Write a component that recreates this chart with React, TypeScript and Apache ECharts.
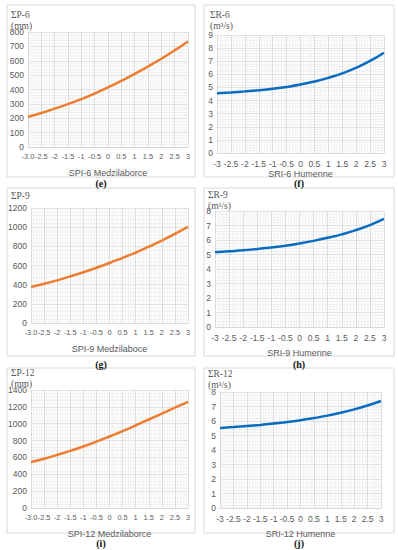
import React, { useEffect, useRef } from "react";
import * as echarts from "echarts";

const xSteps = [-3, -2.5, -2, -1.5, -1, -0.5, 0, 0.5, 1, 1.5, 2, 2.5, 3];

const p6 = [210, 237, 267, 298, 333, 372, 415, 460, 508, 560, 614, 672, 734];
const r6 = [4.55, 4.62, 4.7, 4.79, 4.9, 5.04, 5.22, 5.45, 5.73, 6.07, 6.5, 7.02, 7.65];
const p9 = [375, 410, 445, 487, 530, 576, 626, 680, 735, 796, 860, 930, 1002];
const r9 = [5.15, 5.22, 5.29, 5.38, 5.48, 5.6, 5.76, 5.94, 6.15, 6.39, 6.68, 7.03, 7.45];
const p12 = [545, 585, 630, 678, 730, 787, 848, 912, 980, 1050, 1120, 1190, 1258];
const r12 = [5.52, 5.58, 5.65, 5.73, 5.82, 5.93, 6.05, 6.2, 6.37, 6.57, 6.8, 7.07, 7.38];

const yMaxes = [800, 9, 1200, 8, 1400, 8];
const yIntervals = [100, 1, 200, 1, 200, 1];
const xNames = [
  "SPI-6 Medzilaborce",
  "SRI-6 Humenne",
  "SPI-9 Medzilaboce",
  "SRI-9 Humenne",
  "SPI-12 Medzilaborce",
  "SRI-12 Humenne",
];
const yTitles = ["ΣP-6", "ΣR-6", "ΣP-9", "ΣR-9", "ΣP-12", "ΣR-12"];
const yUnits = ["(mm)", "(m³/s)", "", "(m³/s)", "(mm)", "(m³/s)"];
const panelLetters = ["(e)", "(f)", "(g)", "(h)", "(i)", "(j)"];
const firstLabels = ["-3.0", "-3", "-3.0", "-3", "-3.0", "-3"];

const ORANGE = "#ED7D31";
const BLUE = "#0A6CC0";

export default function App() {
  const ref = useRef<HTMLDivElement>(null);
  useEffect(() => {
    if (!ref.current) return;
    const chart = echarts.init(ref.current, null, { renderer: "svg" });
    const grids = [
      { left: 28, top: 32, width: 160, height: 115 },
      { left: 217, top: 35, width: 167, height: 118 },
      { left: 31, top: 208, width: 157, height: 115 },
      { left: 215, top: 211, width: 169, height: 116 },
      { left: 31, top: 390, width: 157, height: 118 },
      { left: 220, top: 392, width: 161, height: 116 },
    ];
    const seriesData = [p6, r6, p9, r9, p12, r12];
    const boxes = [
      { x: 7, y: 5, w: 188, h: 172 },
      { x: 204, y: 5, w: 190, h: 172 },
      { x: 7, y: 188, w: 188, h: 168 },
      { x: 204, y: 188, w: 190, h: 168 },
      { x: 7, y: 368, w: 188, h: 165 },
      { x: 204, y: 368, w: 190, h: 165 },
    ];
    const letterY = [183, 183, 364, 364, 543, 543];
    const titlePos = [
      { x: 11, y: 9 },
      { x: 210, y: 9 },
      { x: 11, y: 190 },
      { x: 208, y: 189 },
      { x: 11, y: 367 },
      { x: 208, y: 368 },
    ];
    const graphic: any[] = [];
    boxes.forEach((b) => {
      graphic.push({
        type: "rect",
        shape: { x: b.x, y: b.y, width: b.w, height: b.h },
        style: { fill: "none", stroke: "#D9D9D9", lineWidth: 1 },
        silent: true,
      });
    });
    panelLetters.forEach((t, i) => {
      graphic.push({
        type: "text",
        x: i % 2 === 0 ? 101 : 299,
        y: letterY[i],
        style: {
          text: t,
          font: "bold 10px 'Liberation Serif', serif",
          fill: "#111",
          align: "center",
          verticalAlign: "middle",
        },
      });
    });
    yTitles.forEach((t, i) => {
      const p = titlePos[i];
      graphic.push({
        type: "text",
        x: p.x,
        y: p.y,
        style: {
          text: yUnits[i] ? t + "\n" + yUnits[i] : t,
          font: "9.5px 'Liberation Serif', serif",
          lineHeight: 11,
          fill: "#595959",
        },
      });
    });

    const option: any = {
      animation: false,
      grid: grids.map((g) => ({ ...g, containLabel: false })),
      xAxis: grids.map((_, i) => ({
        type: "value",
        gridIndex: i,
        min: -3,
        max: 3,
        interval: 0.5,
        minorTick: { show: false, splitNumber: 5 },
        minorSplitLine: { show: true, lineStyle: { color: "#F2F2F2", width: 1 } },
        splitLine: { show: true, lineStyle: { color: "#DCDCDC", width: 1 } },
        axisLine: { show: true, lineStyle: { color: "#D9D9D9" } },
        axisTick: { show: false },
        axisLabel: {
          color: "#595959",
          fontSize: i % 2 === 0 ? 7.4 : 8.5,
          fontFamily: "'Liberation Sans', sans-serif",
          margin: 6,
          showMinLabel: true,
          showMaxLabel: true,
          hideOverlap: false,
          formatter: (v: number) => (Math.abs(v + 3) < 1e-9 ? firstLabels[i] : String(v)),
        },
        name: xNames[i],
        nameLocation: "middle",
        nameGap: i < 2 && i % 2 === 1 ? 16 : 21,
        nameTextStyle: {
          color: "#595959",
          fontSize: 9,
          fontFamily: "'Liberation Sans', sans-serif",
        },
      })),
      yAxis: grids.map((_, i) => ({
        type: "value",
        gridIndex: i,
        min: 0,
        max: yMaxes[i],
        interval: yIntervals[i],
        minorTick: { show: false, splitNumber: 5 },
        minorSplitLine: { show: true, lineStyle: { color: "#F2F2F2", width: 1 } },
        splitLine: { show: true, lineStyle: { color: "#DCDCDC", width: 1 } },
        axisLine: { show: false },
        axisTick: { show: false },
        axisLabel: {
          color: "#595959",
          fontSize: 8.5,
          fontFamily: "'Liberation Sans', sans-serif",
          margin: 4,
          showMinLabel: true,
          showMaxLabel: true,
          formatter: (v: number) => String(v),
        },
      })),
      series: seriesData.map((d, i) => ({
        type: "line",
        xAxisIndex: i,
        yAxisIndex: i,
        data: xSteps.map((x, k) => [x, d[k]]),
        smooth: true,
        showSymbol: false,
        lineStyle: { color: i % 2 === 0 ? ORANGE : BLUE, width: 2.5 },
      })),
      graphic,
    };
    chart.setOption(option);
    return () => chart.dispose();
  }, []);
  return (
    <div
      ref={ref}
      style={{ position: "fixed", left: 0, top: 0, width: 398, height: 550, background: "#fff" }}
    />
  );
}
